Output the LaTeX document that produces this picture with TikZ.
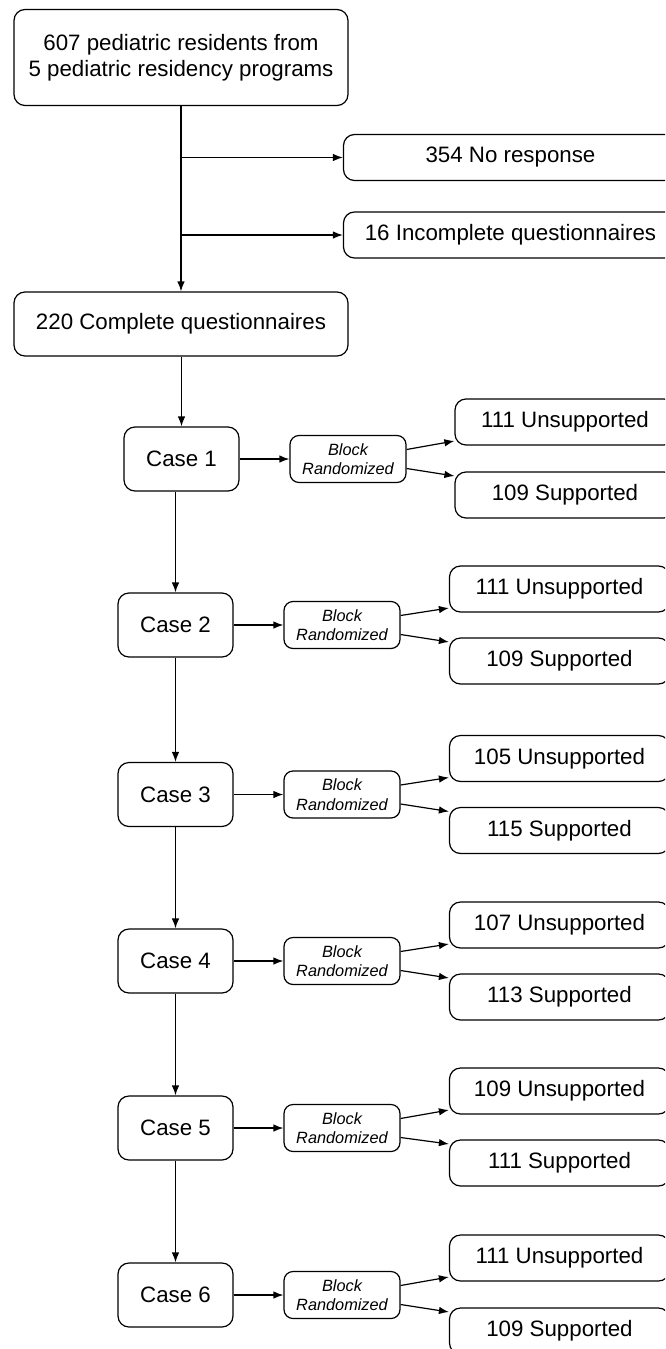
\documentclass[tikz,border=0pt]{standalone}
\usepackage{fontspec}
\setmainfont{Liberation Sans}
\usetikzlibrary{arrows.meta,calc}
\begin{document}
\begin{tikzpicture}[x=1pt,y=-1pt,
  box/.style={draw,line width=1.2pt,rounded corners=11pt,inner sep=0pt,align=center,font=\fontsize{22.3}{25.5}\selectfont},
  bigbox/.style={box,minimum width=334pt},
  casebox/.style={box,minimum width=115pt,minimum height=64pt},
  randbox/.style={draw,line width=1.2pt,rounded corners=9pt,inner sep=0pt,align=center,minimum width=116pt,minimum height=47pt,font=\fontsize{16.3}{19.5}\selectfont\itshape},
  outbox/.style={box,minimum width=220pt,minimum height=46pt},
  arr/.style={line width=1.2pt,-{Latex[length=10pt,width=7.5pt]}},
  ln/.style={line width=1.2pt}]
\useasboundingbox (0,0) rectangle (665,1349);
\clip (0,0) rectangle (665,1349);
\fill[white] (0,0) rectangle (665,1349);
% top part
\node[bigbox,minimum height=96pt] (top) at (181,57.5) {607 pediatric residents from\\5 pediatric residency programs};
\node[bigbox,minimum height=46pt] (nr) at (510.5,157.5) {354 No response};
\node[bigbox,minimum height=46pt] (inc) at (510.5,235) {16 Incomplete questionnaires};
\node[bigbox,minimum height=64pt] (comp) at (181,324) {220 Complete questionnaires};
\draw[arr] (top.south) -- (comp.north);
\draw[arr] (nr.west -| top.south) -- (nr.west);
\draw[arr] (inc.west -| top.south) -- (inc.west);
% cases
\foreach \i/\cx/\bx/\ox/\cy/\uy/\sy/\u/\s in {
  1/181.5/348/565/459/422/495/111/109,
  2/175.5/342/559.5/625/589/661/111/109,
  3/175.5/342/559.5/794.5/758.5/830.5/105/115,
  4/175.5/342/559.5/961/925/997/107/113,
  5/175.5/342/559.5/1128/1091/1163/109/111,
  6/175.5/342/559.5/1295/1258/1331/111/109}{
  \node[casebox] (c\i) at (\cx,\cy) {Case \i};
  \node[randbox] (b\i) at (\bx,\cy) {Block\\Randomized};
  \node[outbox] (u\i) at (\ox,\uy) {\u\ Unsupported};
  \node[outbox] (s\i) at (\ox,\sy) {\s\ Supported};
  \draw[arr] (c\i.east) -- (b\i.west);
  \draw[arr] ($(b\i.east)+(0,-9.5)$) -- ($(u\i.west)+(0,19)$);
  \draw[arr] ($(b\i.east)+(0,9.5)$) -- ($(s\i.west)+(0,-19)$);
}
\draw[arr] (comp.south -| c1.north) -- (c1.north);
\foreach \i/\j in {1/2,2/3,3/4,4/5,5/6}{
  \draw[arr] (c\i.south -| c\j.north) -- (c\j.north);
}
\end{tikzpicture}
\end{document}
